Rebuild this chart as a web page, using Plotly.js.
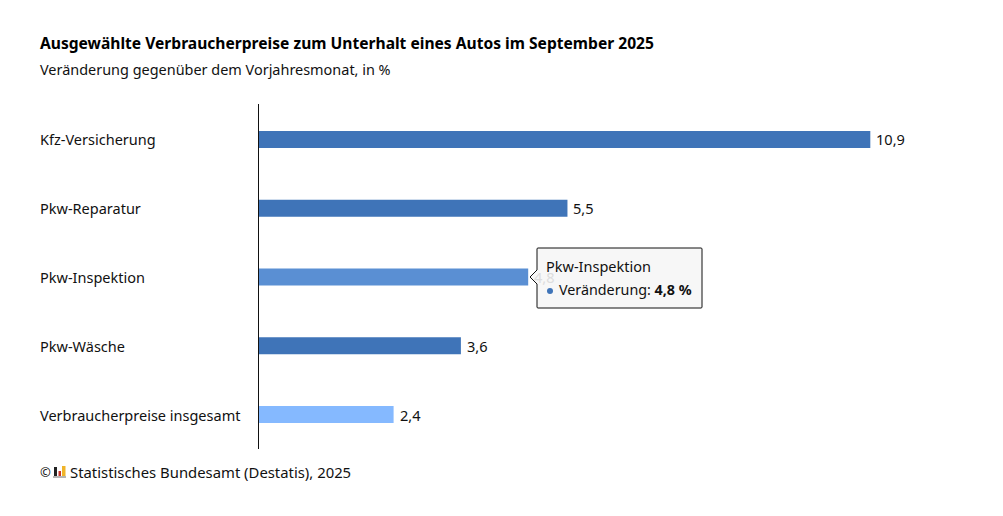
<!DOCTYPE html>
<html><head><meta charset="utf-8">
<script src="https://cdn.plot.ly/plotly-3.0.1.min.js"></script>
<style>html,body{margin:0;padding:0;background:#fff}</style></head>
<body><div id="c" style="width:1003px;height:516px"></div>
<script>
const categories=["Kfz-Versicherung","Pkw-Reparatur","Pkw-Inspektion","Pkw-Wäsche","Verbraucherpreise insgesamt"];
const values=[10.9,5.5,4.8,3.6,2.4];
const barColors=["#3f74b8","#3f74b8","#5a8fd3","#3f74b8","#85b9ff"];
const valueLabels=["10,9","5,5","4,8","3,6","2,4"];
const labelColors=["#111111","#111111","#dddddd","#111111","#111111"];
const titleText="<b>Ausgewählte Verbraucherpreise zum Unterhalt eines Autos im September 2025</b>";
const subtitleText="Veränderung gegenüber dem Vorjahresmonat, in %";
const sourceText="Statistisches Bundesamt (Destatis), 2025";
const W=1003,H=516,ml=259,mt=105,pw=673,ph=344;
const FONT='"Noto Sans", sans-serif';
const px=x=>(x-ml)/pw, py=y=>1-(y-mt)/ph;
const txt=(x,y,text,size,color)=>({xref:'paper',yref:'paper',x:px(x),y:py(y),text,showarrow:false,xanchor:'left',yanchor:'middle',align:'left',font:{family:FONT,size:size||14.5,color:color||'#111'},borderpad:0});
const annotations=[];
categories.forEach((c,i)=>annotations.push({xref:'x',yref:'y',x:values[i],y:c,text:valueLabels[i],showarrow:false,xanchor:'left',yanchor:'middle',xshift:4,yshift:0,font:{family:FONT,size:14.6,color:labelColors[i]}}));
annotations.push(
 txt(39,43,titleText,15.6,'#000'),
 txt(39,69,subtitleText,14.45),
 txt(69,471.5,sourceText,14.85),
 txt(38.5,471.5,'©',13),
 txt(545,266,'Pkw-Inspektion',14.5),
 txt(558,289,'Veränderung: <b>4,8 %</b>',14.3)
);
categories.forEach(c=>annotations.push({xref:'paper',yref:'y',x:px(37.5),y:c,text:c,showarrow:false,xanchor:'left',yanchor:'middle',font:{family:FONT,size:14.5,color:'#111'}}));
const r=(x0,y0,x1,y1,fill)=>({type:'rect',xref:'paper',yref:'paper',x0:px(x0),x1:px(x1),y0:py(y0),y1:py(y1),fillcolor:fill,line:{width:0},layer:'above'});
const boxPath=`M ${px(538)} ${py(248)} L ${px(701)} ${py(248)} Q ${px(702)} ${py(248)} ${px(702)} ${py(249)} L ${px(702)} ${py(307)} Q ${px(702)} ${py(308)} ${px(701)} ${py(308)} L ${px(538)} ${py(308)} Q ${px(537)} ${py(308)} ${px(537)} ${py(307)} L ${px(537)} ${py(284)} L ${px(530)} ${py(277)} L ${px(537)} ${py(270)} L ${px(537)} ${py(249)} Q ${px(537)} ${py(248)} ${px(538)} ${py(248)} Z`;
const shapes=[
 {type:'line',xref:'paper',yref:'paper',x0:px(258.5),x1:px(258.5),y0:py(104),y1:py(449),line:{color:'#111',width:1},layer:'above'},
 {type:'path',xref:'paper',yref:'paper',path:boxPath,fillcolor:'rgba(247,247,247,0.96)',line:{color:'#111',width:1},layer:'above'},
 {type:'circle',xref:'paper',yref:'paper',x0:px(547),x1:px(553),y0:py(288),y1:py(294),fillcolor:'#3f74b8',line:{width:0},layer:'above'},
 r(53,476,66,478,'#b5b5b5'),
 r(54,467,57,476,'#222222'),
 r(58.5,471,61,476,'#c8352b'),
 r(62,466,65.5,476,'#f0b429')
];
Plotly.newPlot('c',[{type:'bar',orientation:'h',y:categories,x:values,marker:{color:barColors,line:{width:0}},hoverinfo:'skip'}],{
 width:W,height:H,margin:{l:ml,t:mt,r:W-ml-pw,b:H-mt-ph,pad:0},paper_bgcolor:'#fff',plot_bgcolor:'#fff',showlegend:false,bargap:0.753,
 xaxis:{range:[0,12],showgrid:false,zeroline:false,showticklabels:false,ticks:'',showline:false},
 yaxis:{categoryorder:'array',categoryarray:categories,autorange:'reversed',showticklabels:false,ticks:'',showgrid:false,zeroline:false,showline:false},
 annotations,shapes,font:{family:FONT}
},{displayModeBar:false,staticPlot:true});
</script></body></html>
